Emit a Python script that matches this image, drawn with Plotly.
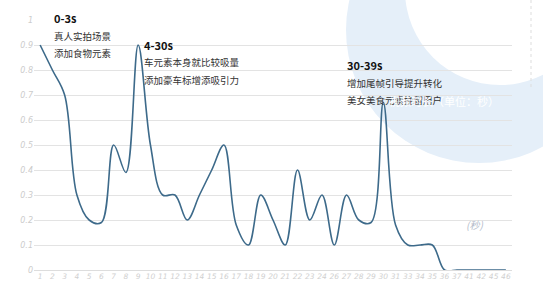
import plotly.graph_objects as go

categories = ["1", "2", "3", "4", "5", "6", "7", "8", "9", "10", "11", "12", "13", "14",
              "15", "16", "17", "18", "19", "20", "21", "22", "23", "24", "26", "27", "28",
              "29", "30", "31", "33", "34", "35", "36", "37", "41", "42", "45", "46"]
values = [0.9, 0.8, 0.7, 0.3, 0.2, 0.19, 0.5, 0.39, 0.9, 0.5, 0.3, 0.3, 0.2, 0.3,
          0.4, 0.5, 0.18, 0.1, 0.3, 0.2, 0.1, 0.4, 0.2, 0.3, 0.1, 0.3, 0.2,
          0.19, 0.67, 0.18, 0.1, 0.1, 0.1, 0, 0, 0, 0, 0, 0]
y_ticks = [0, 0.1, 0.2, 0.3, 0.4, 0.5, 0.6, 0.7, 0.8, 0.9, 1]
y_ticktext = ["0", "0.1", "0.2", "0.3", "0.4", "0.5", "0.6", "0.7", "0.8", "0.9", "1"]

notes = [
    ("0-3s", ["真人实拍场景", "添加食物元素"], 52, 18),
    ("4-30s", ["车元素本身就比较吸量", "添加豪车标增添吸引力"], 142, 45),
    ("30-39s", ["增加尾帧引导提升转化", "美女美食元素挽留用户"], 345, 65),
]

W, H = 543, 307
L, R, T, B = 34, 31, 19, 37
PW, PH = W - L - R, H - T - B


def px(x):
    return (x - L) / PW


def py(y):
    return (H - B - y) / PH


CJK = "Noto Sans CJK SC"

fig = go.Figure()
fig.add_trace(go.Scatter(
    x=categories, y=values, mode="lines",
    line=dict(color="#3d6a8a", width=1.6, shape="spline", smoothing=1.0),
    hoverinfo="skip", showlegend=False,
))

shapes = [
    dict(type="circle", xref="paper", yref="paper", layer="below",
         x0=px(346), x1=px(612), y0=py(163), y1=py(-103),
         fillcolor="#e5eff9", line=dict(width=0)),
    dict(type="circle", xref="paper", yref="paper", layer="below",
         x0=px(405), x1=px(595), y0=py(85), y1=py(-105),
         fillcolor="#ffffff", line=dict(width=0)),
    dict(type="line", xref="paper", yref="paper", layer="below",
         x0=px(531), x1=px(531), y0=py(87), y1=py(0),
         line=dict(color="#dddddd", width=1, dash="dot")),
]

annotations = []
for title, lines, x0, y0 in notes:
    annotations.append(dict(
        text="<b>" + title + "</b>", xref="paper", yref="paper",
        x=px(x0), y=py(y0), xanchor="left", yanchor="middle", showarrow=False,
        font=dict(family=CJK, size=11, color="#111111"),
    ))
    for i, t in enumerate(lines):
        annotations.append(dict(
            text=t, xref="paper", yref="paper",
            x=px(x0), y=py(y0 + 17.5 * (i + 1)), xanchor="left", yanchor="middle",
            showarrow=False, font=dict(family=CJK, size=9.5, color="#333333"),
        ))

annotations.append(dict(
    text="视频时长（单位：秒）", xref="paper", yref="paper",
    x=px(387), y=py(101), xanchor="left", yanchor="middle", showarrow=False,
    font=dict(family=CJK, size=11, color="#ffffff"),
))
annotations.append(dict(
    text="(秒)", xref="paper", yref="paper",
    x=px(474), y=py(225), xanchor="center", yanchor="middle", showarrow=False,
    font=dict(family=CJK, size=10, color="#b4bccb", style="italic"),
))

fig.update_layout(
    width=W, height=H,
    margin=dict(l=L, r=R, t=T, b=B, pad=0),
    paper_bgcolor="#ffffff", plot_bgcolor="rgba(0,0,0,0)",
    shapes=shapes, annotations=annotations,
    xaxis=dict(
        type="category", range=[-0.5, len(categories) - 0.5],
        showgrid=False, zeroline=False, showline=False, ticks="",
        tickfont=dict(family="DejaVu Sans", size=7.5, color="#d0d0d0", style="italic"),
        tickangle=0, dtick=1,
    ),
    yaxis=dict(
        range=[0, 1.004], tickvals=y_ticks, ticktext=y_ticktext,
        showgrid=True, gridcolor="#e3e3e3", gridwidth=1,
        zeroline=True, zerolinecolor="#dddddd", zerolinewidth=1,
        showline=False, ticks="",
        tickfont=dict(family="DejaVu Sans", size=8, color="#cccccc", style="italic"),
    ),
)

fig.write_html("out.html")
